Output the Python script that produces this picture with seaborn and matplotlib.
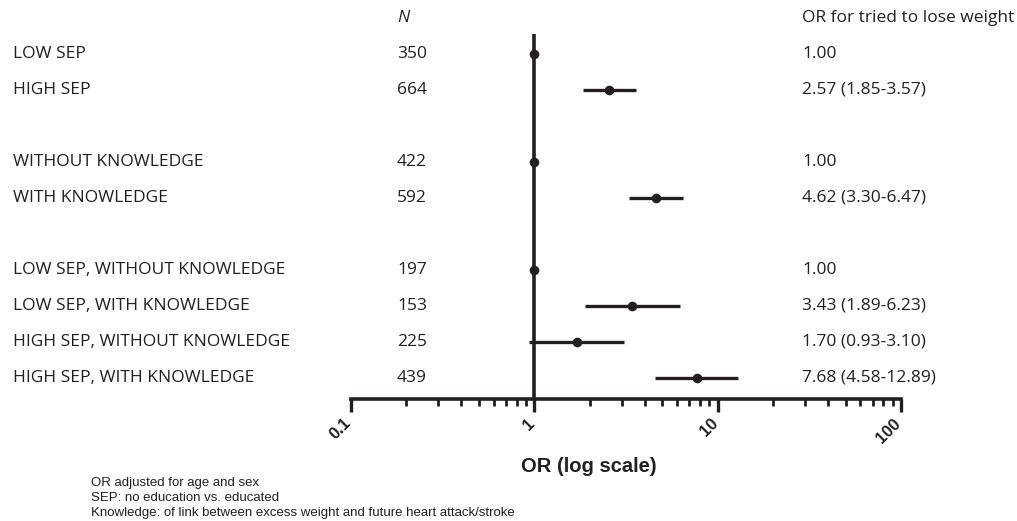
import numpy as np
import pandas as pd
import matplotlib
matplotlib.use("Agg")
import matplotlib.pyplot as plt
import matplotlib.transforms as mtransforms
import seaborn as sns

# ---- data ----
labels = ["LOW SEP", "HIGH SEP", "", "WITHOUT KNOWLEDGE", "WITH KNOWLEDGE", "",
          "LOW SEP, WITHOUT KNOWLEDGE", "LOW SEP, WITH KNOWLEDGE",
          "HIGH SEP, WITHOUT KNOWLEDGE", "HIGH SEP, WITH KNOWLEDGE"]
n_values = ["350", "664", "", "422", "592", "", "197", "153", "225", "439"]
or_values = [1.00, 2.57, np.nan, 1.00, 4.62, np.nan, 1.00, 3.43, 1.70, 7.68]
ci_low = [np.nan, 1.85, np.nan, np.nan, 3.30, np.nan, np.nan, 1.89, 0.93, 4.58]
ci_high = [np.nan, 3.57, np.nan, np.nan, 6.47, np.nan, np.nan, 6.23, 3.10, 12.89]
or_text = ["1.00", "2.57 (1.85-3.57)", "", "1.00", "4.62 (3.30-6.47)", "",
           "1.00", "3.43 (1.89-6.23)", "1.70 (0.93-3.10)", "7.68 (4.58-12.89)"]
x_ticks = [0.1, 1, 10, 100]
x_tick_labels = ["0.1", "1", "10", "100"]
footnotes = ["OR adjusted for age and sex",
             "SEP: no education vs. educated",
             "Knowledge: of link between excess weight and future heart attack/stroke"]

df = pd.DataFrame({"label": labels, "n": n_values, "OR": or_values,
                   "lo": ci_low, "hi": ci_high, "txt": or_text})
df["row"] = np.arange(1, len(df) + 1)

sns.set_theme(style="white")
plt.rcParams["font.family"] = ["DejaVu Sans"]

W, H = 1017, 521
fig = plt.figure(figsize=(W / 100, H / 100), dpi=100)
ax = fig.add_axes([351 / W, 122 / H, 550 / W, 399 / H])

dark = "#231f20"
ax.set_xscale("log")
ax.set_xlim(0.1, 100)
ybottom = (399 - 18) / 36
ax.set_ylim(ybottom, -0.5)

# reference line at OR = 1
ax.plot([1, 1], [0.44, ybottom], color=dark, lw=2.6, solid_capstyle="butt", zorder=2)

# confidence intervals
ci = df.dropna(subset=["lo"])
ax.hlines(ci["row"], ci["lo"], ci["hi"], color=dark, lw=2.4, zorder=3)
# points
sns.scatterplot(data=df.dropna(subset=["OR"]), x="OR", y="row", ax=ax,
                color=dark, s=48, edgecolor=dark, linewidth=0, zorder=4,
                legend=False)

ax.set_xlabel("")
ax.set_ylabel("")
ax.set_yticks([])
for s in ["left", "right", "top"]:
    ax.spines[s].set_visible(False)
ax.spines["bottom"].set_color(dark)
ax.spines["bottom"].set_linewidth(2.6)
ax.set_xticks(x_ticks)
ax.set_xticklabels(x_tick_labels, rotation=45, ha="right", va="top",
                   fontfamily="Liberation Sans", fontweight="bold", fontsize=12,
                   color=dark)
ax.tick_params(axis="x", which="major", direction="out", length=9, width=2.4,
               color=dark, pad=3, bottom=True)
ax.tick_params(axis="x", which="minor", direction="out", length=5, width=2.0,
               color=dark, bottom=True)
for lbl in ax.get_xticklabels():
    lbl.set_transform(lbl.get_transform() +
                      mtransforms.ScaledTranslation(3 / 100, 0, fig.dpi_scale_trans))

fig.text(589 / W, 1 - 467 / H, "OR (log scale)", ha="center", va="center",
         fontfamily="Liberation Sans", fontweight="bold", fontsize=14.5,
         color=dark)

# text columns
tr = mtransforms.blended_transform_factory(fig.transFigure, ax.transData)
txt_kw = dict(fontfamily="Open Sans", fontsize=12.5, color=dark, va="center",
              transform=tr)
ax.text(397 / W, 0, "N", style="italic", **txt_kw)
ax.text(802 / W, 0, "OR for tried to lose weight", **txt_kw)
for _, r in df.iterrows():
    ax.text(13 / W, r["row"], r["label"], **txt_kw)
    ax.text(397 / W, r["row"], r["n"], **txt_kw)
    ax.text(802 / W, r["row"], r["txt"], **txt_kw)

for i, f in enumerate(footnotes):
    fig.text(91 / W, 1 - (483 + 15 * i) / H, f, ha="left", va="center",
             fontfamily="Liberation Sans", fontsize=9.5, color=dark)

fig.savefig("out.png", dpi=100)
